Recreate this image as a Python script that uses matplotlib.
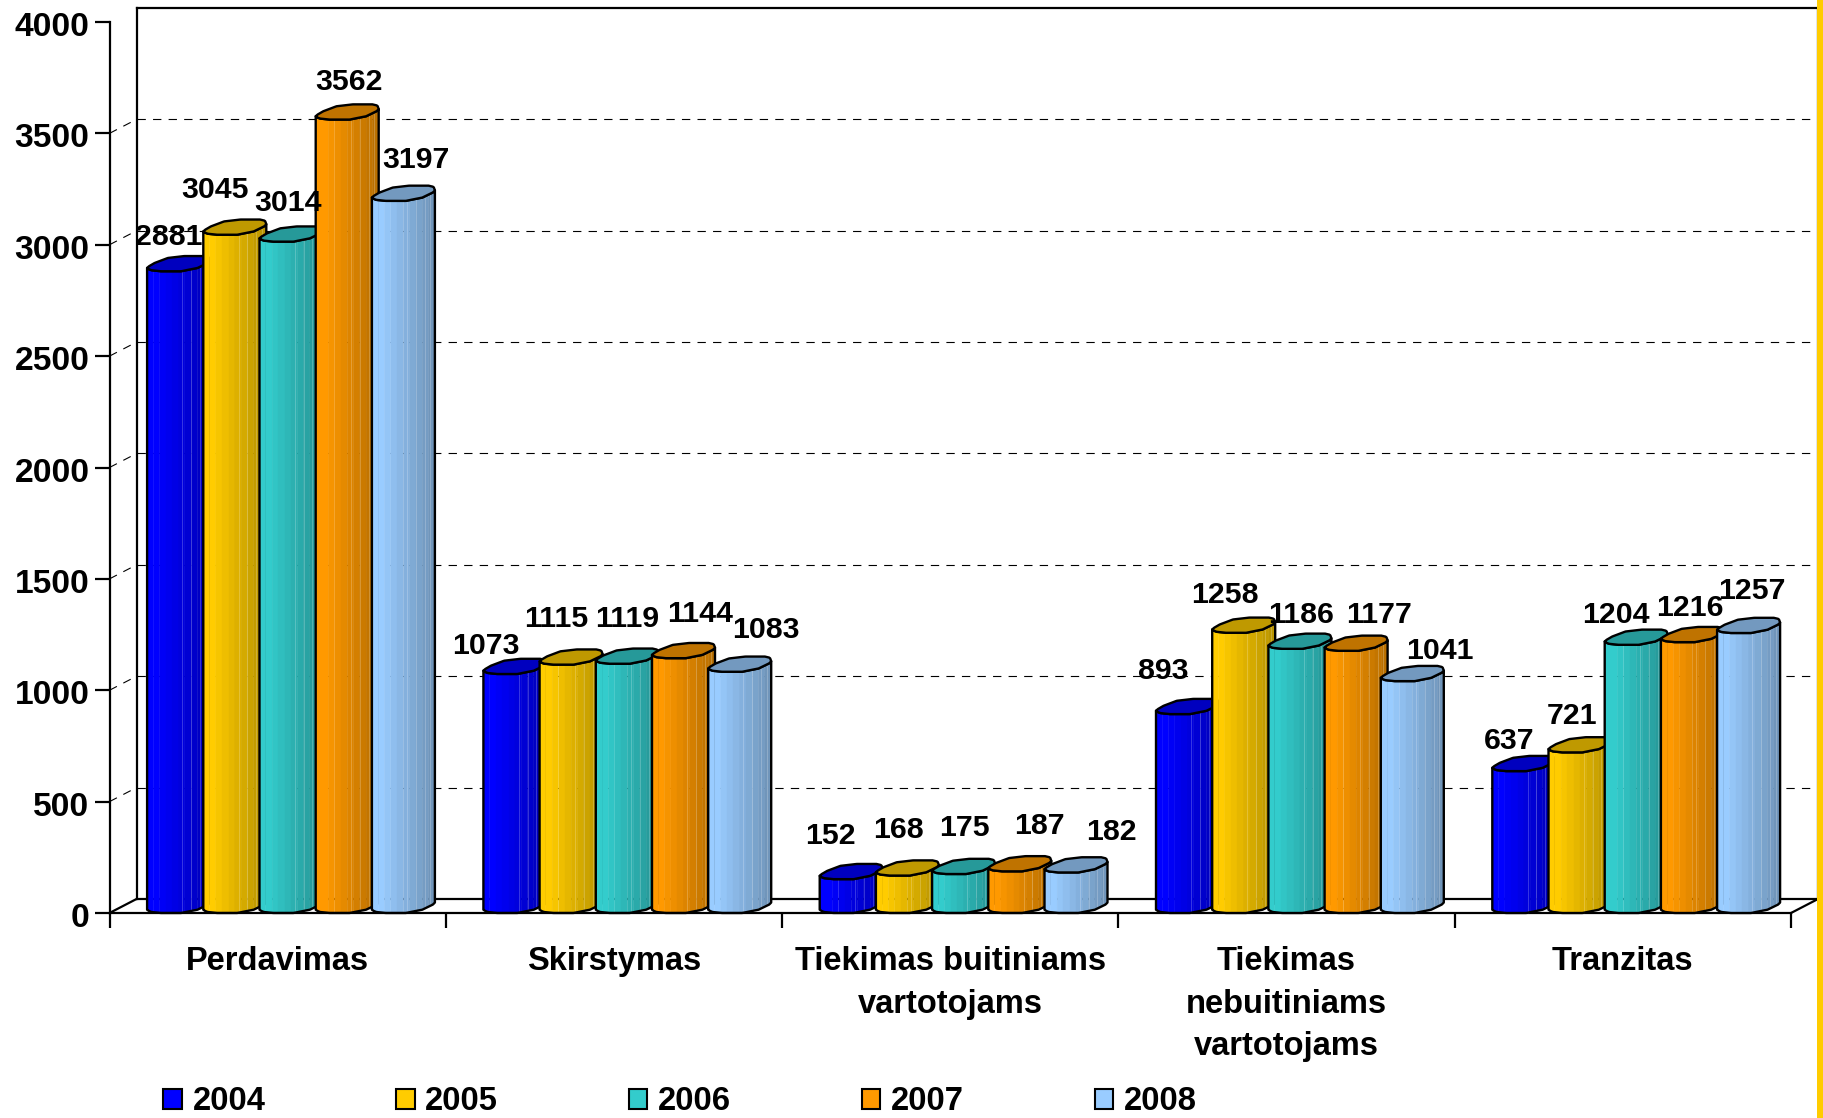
import numpy as np
import matplotlib

matplotlib.use("Agg")
import matplotlib.pyplot as plt
from matplotlib.patches import Polygon, Rectangle
from matplotlib.transforms import ScaledTranslation

plt.rcParams["font.family"] = ["Liberation Sans", "DejaVu Sans"]
plt.rcParams["font.weight"] = "bold"

# chart data
categories = [
    "Perdavimas",
    "Skirstymas",
    "Tiekimas buitiniams\nvartotojams",
    "Tiekimas\nnebuitiniams\nvartotojams",
    "Tranzitas",
]
years = ["2004", "2005", "2006", "2007", "2008"]
values_2004 = [2881, 1073, 152, 893, 637]
values_2005 = [3045, 1115, 168, 1258, 721]
values_2006 = [3014, 1119, 175, 1186, 1204]
values_2007 = [3562, 1144, 187, 1177, 1216]
values_2008 = [3197, 1083, 182, 1041, 1257]
series = [values_2004, values_2005, values_2006, values_2007, values_2008]
colors = ["#0000FF", "#FFCC00", "#33CCCC", "#FF9900", "#99CCFF"]

# data labels were placed by hand in the original, pixel centres per series
label_px = [
    [(169, 237), (486, 646), (830, 836), (1163, 671), (1509, 741)],
    [(215, 190), (556, 619), (898, 830), (1225, 595), (1572, 716)],
    [(288, 203), (627, 619), (964, 828), (1301, 615), (1616, 615)],
    [(349, 82), (700, 614), (1039, 826), (1379, 615), (1690, 608)],
    [(416, 160), (766, 630), (1111, 832), (1440, 651), (1752, 591)],
]

W, H = 1823, 1118
X0, X1 = 109.5, 1791
Y_TOP, Y_BASE = 22, 913
PX_X = (X1 - X0) / 5  # pixels per category
PX_Y = (Y_BASE - Y_TOP) / 4000  # pixels per unit
DX = 27 / PX_X
DY = 14 / PX_Y
BAR_W = 63 / PX_X
BAR_STEP = 56.2 / PX_X
BAR_START = 37.6 / PX_X

# cylinder contour, pixels above the value level along the bar width
T_LOW = [0, 0.03, 0.07, 0.22, 0.54, 0.64, 0.8, 0.97, 1]
OFF_LOW = [3.3, 2, 1.0, 0, 0, 1.3, 3.3, 8.5, 10.5]
T_UP = [0, 0.03, 0.12, 0.33, 0.59, 0.9, 0.98, 1]
OFF_UP = [3.3, 5, 8.3, 13.3, 15.2, 15.2, 14, 10.5]


def low(t):
    return np.interp(t, T_LOW, OFF_LOW) / PX_Y


def up(t):
    return np.interp(t, T_UP, OFF_UP) / PX_Y


def shade(color, f):
    return tuple(c * f for c in matplotlib.colors.to_rgb(color))


def draw_cylinder(ax, x, value, color, zorder):
    t = np.linspace(0, 1, 61)
    # body, drawn in strips going darker to the right
    edges = np.linspace(0, 1, 11)
    for n in range(10):
        tt = np.linspace(edges[n], edges[n + 1], 6)
        xs = x + tt * BAR_W
        poly = np.r_[
            np.c_[xs, low(tt)],
            np.c_[xs[::-1], value + low(tt[::-1])],
        ]
        f = 1 - 0.27 * max(0, edges[n] - 0.1) / 0.8
        ax.add_patch(
            Polygon(poly, closed=True, fc=shade(color, f), ec=shade(color, f),
                    lw=0.3, zorder=zorder, clip_on=False)
        )
    for tl in (0.56, 0.7, 0.84, 0.93):
        ax.plot([x + tl * BAR_W] * 2,
                [low(tl), value + low(tl)],
                color="white", alpha=0.25, lw=0.6, zorder=zorder, clip_on=False)
    # outline of the body
    xs = x + t * BAR_W
    outline = np.r_[np.c_[xs, low(t)], np.c_[xs[::-1], value + low(t[::-1])]]
    ax.add_patch(
        Polygon(outline, closed=True, fill=False, ec="black", lw=1.7,
                joinstyle="round", zorder=zorder, clip_on=False)
    )
    # top cap
    cap = np.r_[np.c_[xs, value + low(t)], np.c_[xs[::-1], value + up(t[::-1])]]
    ax.add_patch(
        Polygon(cap, closed=True, fc=shade(color, 0.75), ec="black", lw=1.7,
                joinstyle="round", zorder=zorder, clip_on=False)
    )


fig = plt.figure(figsize=(W / 100, H / 100), dpi=100, facecolor="white")
ax = fig.add_axes([X0 / W, 1 - Y_BASE / H, (X1 - X0) / W, (Y_BASE - Y_TOP) / H])
ax.patch.set_visible(False)
ax.set_xlim(0, 5)
ax.set_ylim(0, 4000)

for side in ("top", "right"):
    ax.spines[side].set_visible(False)
for side in ("left", "bottom"):
    ax.spines[side].set_linewidth(1.6)
    ax.spines[side].set_zorder(20)

yticks = np.arange(0, 4001, 500)
ax.set_yticks(yticks)
ax.set_xticks(np.arange(6))
ax.set_xticklabels([])
ax.set_xticks(np.arange(5) + 0.5, categories, minor=True)
ax.tick_params(axis="y", length=10.8, width=1.6, pad=3.6, labelsize=24.2)
ax.tick_params(axis="x", which="major", length=10.8, width=1.6)
ax.tick_params(axis="x", which="minor", length=0, pad=24, labelsize=23.5)
for lab in ax.get_xticklabels(minor=True):
    lab.set_linespacing(1.47)
nudge = ScaledTranslation(0, -2 / 100, fig.dpi_scale_trans)
for lab in ax.get_yticklabels():
    lab.set_va("center_baseline")
    lab.set_transform(lab.get_transform() + nudge)

# walls
wall = dict(color="black", lw=1.6, clip_on=False, zorder=1)
ax.plot([DX, DX], [DY, 4000 + DY], **wall)
ax.plot([DX, 5 + DX], [4000 + DY, 4000 + DY], **wall)
ax.plot([5 + DX, 5 + DX], [DY, 4000 + DY], **wall)
ax.plot([DX, 5 + DX], [DY, DY], **wall)
ax.plot([0, DX], [0, DY], **wall)
ax.plot([5, 5 + DX], [0, DY], **wall)

# dashed grid on the back and side walls
dash = dict(color="black", lw=0.8, ls=(0, (7.5, 6.5)), clip_on=False, zorder=1)
for v in yticks[1:-1]:
    ax.plot([DX, 5 + DX], [v + DY, v + DY], **dash)
    ax.plot([0, DX], [v, v + DY], **dash)

for j, values in enumerate(series):
    for i, v in enumerate(values):
        draw_cylinder(ax, i + BAR_START + j * BAR_STEP, v, colors[j], 3 + j + i * 6)

for j, values in enumerate(series):
    for i, v in enumerate(values):
        px, py = label_px[j][i]
        fig.text(px / W, 1 - py / H, str(v), fontsize=21.8, ha="center",
                 va="center", zorder=50)

handles = [Rectangle((0, 0), 1, 1, fc=c, ec="black", lw=1.5) for c in colors]
fig.legend(
    handles, years, ncols=5, loc="lower left",
    bbox_to_anchor=(163 / W, 1 - 1117.5 / H),
    frameon=False, fontsize=23.6, borderaxespad=0, borderpad=0,
    handlelength=0.57, handleheight=0.6, handletextpad=0.33, columnspacing=3.98,
)

# yellow strip on the right edge of the slide
fig.add_artist(Rectangle((1817 / W, 0), 6 / W, 1, transform=fig.transFigure,
                         fc="#FFCC00", ec="none"))

fig.savefig("out.png", dpi=100)
